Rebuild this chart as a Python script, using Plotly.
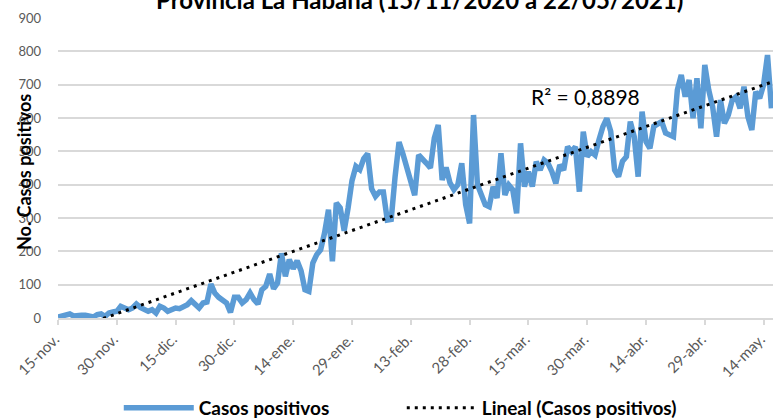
import numpy as np
import pandas as pd
import plotly.graph_objects as go

# ---------------- data ----------------
start_date = "2020-11-15"
casos_positivos = [
    3, 5, 8, 12, 6, 5, 8, 8, 7, 3,
    10, 12, 5, 15, 18, 20, 35, 28, 25, 30,
    42, 32, 28, 20, 25, 15, 35, 30, 20, 27,
    30, 28, 32, 40, 52, 38, 30, 45, 48, 102,
    75, 62, 55, 45, 17, 62, 62,
    45, 55, 75, 55, 42, 85, 95, 132, 88, 105,
    194, 125, 175, 148, 172, 142, 85, 80, 165, 190,
    205, 255, 325, 170, 345, 330, 262, 330, 412, 455,
    445, 478, 493, 388, 365, 378, 378, 294, 296, 425,
    528, 492, 455, 410, 368,
    489, 478, 464, 450, 540, 579, 414, 452, 405, 385,
    400, 464, 340, 284, 609, 400, 369, 340, 334, 394,
    360, 494, 369, 399, 385, 314, 524, 394, 439, 394,
    469, 444, 474, 464, 439, 404, 459, 444, 514, 499,
    514, 379, 559, 484, 499,
    489, 534, 574, 599, 560, 444, 424, 470, 484, 589,
    544, 424, 619, 529, 509, 575, 582, 589, 555, 549,
    544, 684, 729, 664, 714, 599, 719, 569, 759, 684,
    634, 544, 654, 584, 609, 654, 664, 629, 694, 604,
    564, 679, 659, 700, 789, 629,
]
tick_dates = ["2020-11-15", "2020-11-30", "2020-12-15", "2020-12-30", "2021-01-14",
              "2021-01-29", "2021-02-13", "2021-02-28", "2021-03-15", "2021-03-30",
              "2021-04-14", "2021-04-29", "2021-05-14"]
tick_labels = ["15-nov.", "30-nov.", "15-dic.", "30-dic.", "14-ene.", "29-ene.", "13-feb.",
               "28-feb.", "15-mar.", "30-mar.", "14-abr.", "29-abr.", "14-may."]
y_ticks = [0, 100, 200, 300, 400, 500, 600, 700, 800, 900]
r2_text = "R² = 0,8898"
title_text = "Provincia La Habana (15/11/2020 a 22/05/2021)"
y_title = "No. Casos positivos"

# ---------------- derived ----------------
dates = pd.date_range(start_date, periods=len(casos_positivos), freq="D")
idx = np.arange(len(casos_positivos))
slope, intercept = np.polyfit(idx, casos_positivos, 1)
trend = slope * idx + intercept

FONT = "Lato"
fig = go.Figure()
fig.add_trace(go.Scatter(x=dates, y=casos_positivos, mode="lines",
                         name="Casos positivos",
                         line=dict(color="#5B9BD5", width=5.5)))
fig.add_trace(go.Scatter(x=dates, y=trend, mode="lines",
                         name="Lineal (Casos positivos)",
                         line=dict(color="black", width=3, dash="3px,5px")))

x_end = pd.Timestamp(start_date) + pd.Timedelta(hours=182.4 * 24)

fig.update_layout(
    width=773, height=420, autosize=False,
    margin=dict(l=58, r=0, t=18, b=102, autoexpand=False),
    paper_bgcolor="white", plot_bgcolor="white",
    font=dict(family=FONT, color="#595959"),
    showlegend=True,
    legend=dict(orientation="h", x=0.085, y=-0.3, xanchor="left", yanchor="middle",
                font=dict(family=FONT, size=19, color="black", weight="bold"),
                itemwidth=70, entrywidth=198, bgcolor="rgba(0,0,0,0)"),
    xaxis=dict(type="date", range=[pd.Timestamp(start_date), x_end], automargin=False,
               tickvals=tick_dates, ticktext=tick_labels, tickangle=-45,
               ticklabelshift=-3,
               tickfont=dict(family=FONT, size=15, color="#595959"),
               showgrid=False, zeroline=False,
               showline=True, linecolor="#d9d9d9", linewidth=1.5,
               ticks="outside", ticklen=5, tickcolor="#d9d9d9", tickwidth=1.5),
    yaxis=dict(range=[0, 900], tickvals=y_ticks, automargin=False,
               tickfont=dict(family=FONT, size=13, color="#595959"),
               showgrid=True, gridcolor="#d9d9d9", gridwidth=1.5,
               zeroline=False, showline=False, ticks="",
               ticklabelstandoff=16),
)

fig.add_annotation(text=title_text, xref="paper", yref="paper",
                   x=(419 - 58) / 715, y=(318 + 1) / 300, xanchor="center", yanchor="middle",
                   showarrow=False, font=dict(family=FONT, size=24, color="black", weight="bold"))
fig.add_annotation(text=y_title, xref="paper", yref="paper", textangle=-90,
                   x=(24 - 58) / 715, y=(318 - 172) / 300, xanchor="center", yanchor="middle",
                   showarrow=False, font=dict(family=FONT, size=18, color="black", weight="bold"))
fig.add_annotation(text=r2_text, xref="paper", yref="paper",
                   x=(585 - 58) / 715, y=(318 - 97) / 300, xanchor="center", yanchor="middle",
                   showarrow=False, font=dict(family=FONT, size=21, color="black"))

fig.write_html("out.html", config={"displayModeBar": False},
               post_script="document.body.style.margin='0';document.body.style.overflow='hidden';")
